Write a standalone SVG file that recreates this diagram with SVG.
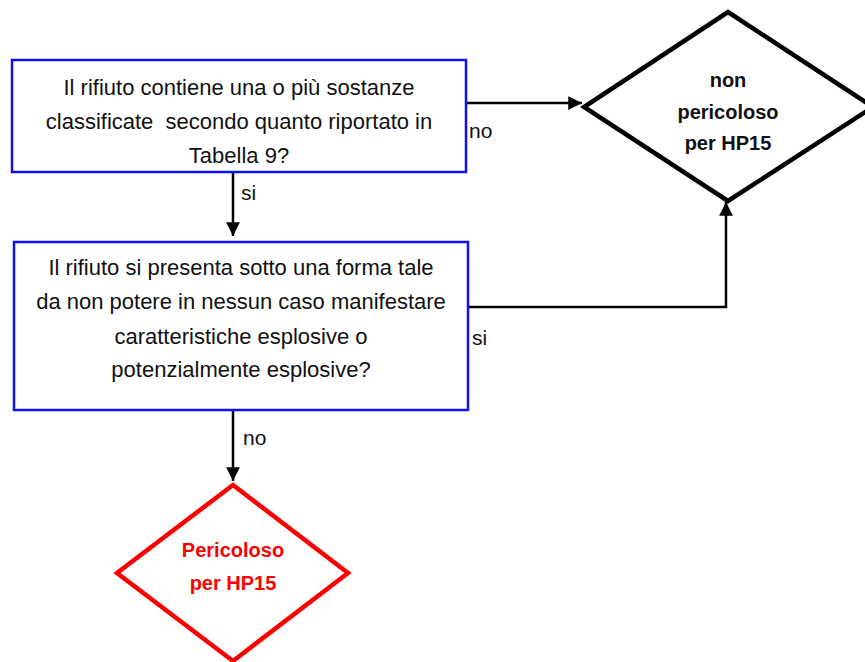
<svg xmlns="http://www.w3.org/2000/svg" width="865" height="662" viewBox="0 0 865 662">
<style>
text{font-family:"Liberation Sans",Arial,sans-serif;font-size:22px;fill:#111}
.c{text-anchor:middle}
.s{font-size:21px}
.b{font-weight:bold;font-size:20px}
.box{fill:#fff;stroke:#1010F0;stroke-width:2.5}
.line{fill:none;stroke:#000;stroke-width:2.5}
</style>
<defs>
<marker id="ah" viewBox="0 0 10 10" refX="10" refY="5" markerWidth="6" markerHeight="5.5" orient="auto" markerUnits="strokeWidth"><path d="M0,0 L10,5 L0,10 z" fill="#000"/></marker>
</defs>
<g id="connectors">
<path class="line" d="M464,103 H582" marker-end="url(#ah)"/>
<path class="line" d="M468,307 H726 V202" marker-end="url(#ah)"/>
<path class="line" d="M233,172 V236" marker-end="url(#ah)"/>
<path class="line" d="M233,410 V481" marker-end="url(#ah)"/>
<text class="s" x="469" y="138">no</text>
<text class="s" x="472" y="345">si</text>
<text class="s" x="241" y="200">si</text>
<text class="s" x="243" y="445">no</text>
</g>
<g id="q1">
<rect class="box" x="12" y="60" width="454" height="112"/>
<text class="c" x="239" y="95">Il rifiuto contiene una o più sostanze</text>
<text class="c" x="239" y="129" xml:space="preserve">classificate  secondo quanto riportato in</text>
<text class="c" x="239" y="163">Tabella 9?</text>
</g>
<g id="q2">
<rect class="box" x="14" y="242" width="454" height="168"/>
<text class="c" x="241" y="275">Il rifiuto si presenta sotto una forma tale</text>
<text class="c" x="241" y="309">da non potere in nessun caso manifestare</text>
<text class="c" x="241" y="344">caratteristiche esplosive o</text>
<text class="c" x="241" y="377">potenzialmente esplosive?</text>
</g>
<g id="nonpericoloso">
<polygon points="728,12 873,107 728,201 584,107" fill="#fff" stroke="#000" stroke-width="4.5"/>
<text class="c b" x="728" y="87">non</text>
<text class="c b" x="728" y="119">pericoloso</text>
<text class="c b" x="728" y="150">per HP15</text>
</g>
<g id="pericoloso">
<polygon points="233,485 348,573 233,661 117,573" fill="#fff" stroke="#FF0000" stroke-width="4.5"/>
<text class="c b" x="233" y="557" style="fill:#FF0000">Pericoloso</text>
<text class="c b" x="233" y="590" style="fill:#FF0000">per HP15</text>
</g>
</svg>
